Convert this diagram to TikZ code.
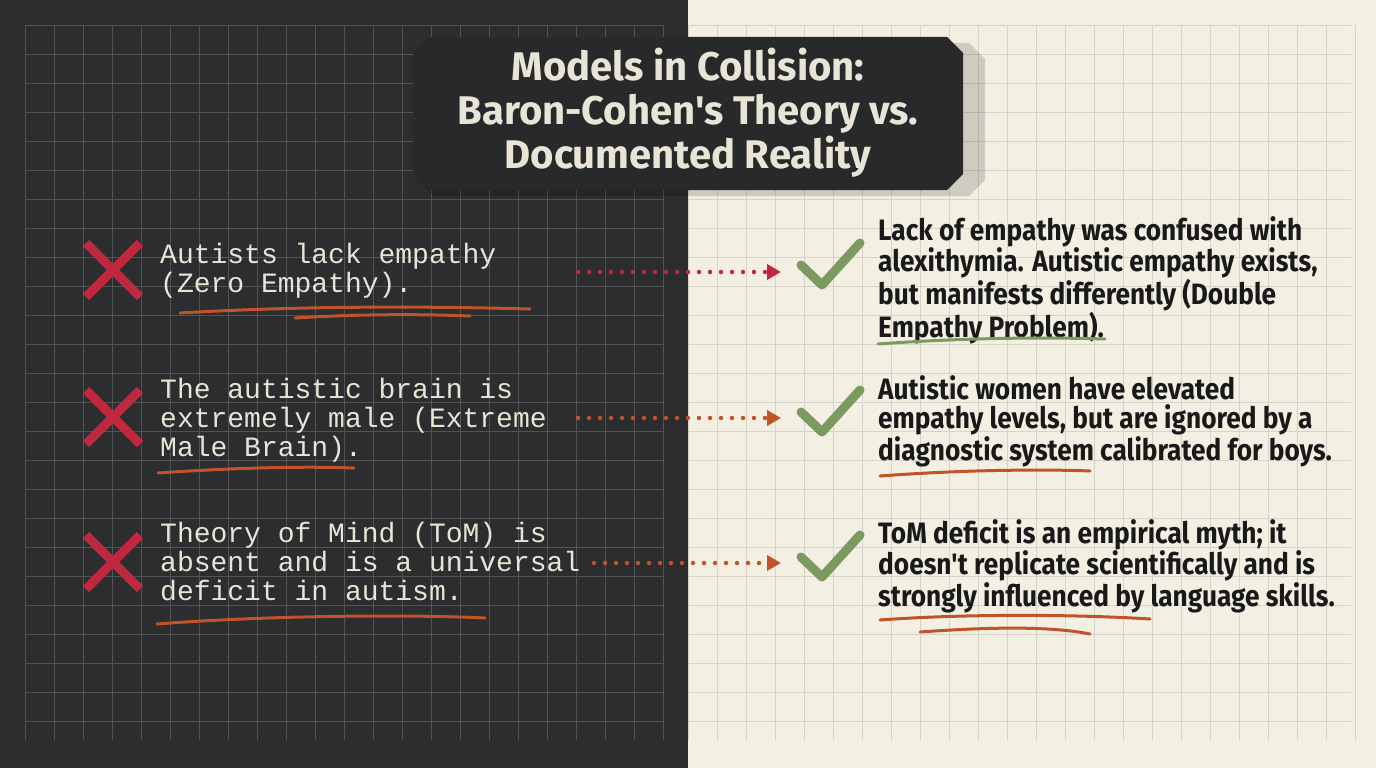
\documentclass[tikz,border=0pt]{standalone}
\usepackage{fontspec}
\usetikzlibrary{arrows.meta}
\newfontfamily\monof{Liberation Mono}
\newfontfamily\condf[FakeStretch=0.89]{Fira Sans Bold}
\newfontfamily\titlef{Fira Sans Bold}
\definecolor{dark}{HTML}{2B2D2F}
\definecolor{cream}{HTML}{F3F0E3}
\definecolor{xred}{HTML}{C0283F}
\definecolor{orng}{HTML}{C0532A}
\definecolor{grn}{HTML}{7A9A5F}
\definecolor{txt}{HTML}{E8E4D6}
\tikzset{
 lefttxt/.style={anchor=north west,align=left,text=txt,font=\monof\fontsize{28}{29}\selectfont,inner sep=0},
 righttxt/.style={anchor=north west,align=left,text=black!90,font=\condf\fontsize{29.5}{29.5}\selectfont,inner sep=0},
 xmark/.style={xred,line width=9pt},
 chk/.style={grn,line width=9pt,line cap=round,line join=round},
 dotarr/.style={line width=4.5pt,dash pattern=on 0pt off 11pt,line cap=round,-{Triangle[length=14pt,width=15pt,line cap=butt]}},
 uline/.style={line width=3pt,line cap=round}
}
\begin{document}
\begin{tikzpicture}[x=1pt,y=-1pt]
\fill[dark] (0,0) rectangle (688,768);
\fill[cream] (688,0) rectangle (1376,768);
\foreach \i in {0,...,22} \draw[white!18!dark,line width=0.8pt] (25+29*\i,25)--(25+29*\i,740);
\foreach \j in {0,...,24} \draw[white!18!dark,line width=0.8pt] (25,25+29*\j)--(663,25+29*\j);
\foreach \i in {0,...,23} \draw[black!12!cream,line width=0.8pt] (688+29*\i,25)--(688+29*\i,740);
\foreach \j in {0,...,24} \draw[black!12!cream,line width=0.8pt] (688,25+29*\j)--(1351,25+29*\j);
% title
\fill[black,opacity=0.15] (433,43)--(969,43)--(985,59)--(985,180)--(969,196)--(433,196)--(417,180)--(417,59)--cycle;
\fill[dark!90!black] (429,37)--(947,37)--(963,53)--(963,174)--(947,190)--(429,190)--(413,174)--(413,53)--cycle;
\node[text=txt,font=\titlef\fontsize{40}{44}\selectfont,align=center] (title) at (688,113) {Models in Collision:\\Baron-Cohen's Theory vs.\\Documented Reality};
% left texts
\node[lefttxt] (l1) at (160,243) {Autists lack empathy\\(Zero Empathy).};
\node[lefttxt] (l2) at (160,378) {The autistic brain is\\extremely male (Extreme\\Male Brain).};
\node[lefttxt] (l3) at (160,522) {Theory of Mind (ToM) is\\absent and is a universal\\deficit in autism.};
% right texts
\node[righttxt] (r1) at (878,216) {Lack of empathy was confused with\\alexithymia. Autistic empathy exists,\\but manifests differently (Double\\Empathy Problem).};
\node[righttxt] (r2) at (878,375) {Autistic women have elevated\\empathy levels, but are ignored by a\\diagnostic system calibrated for boys.};
\node[righttxt] (r3) at (878,519) {ToM deficit is an empirical myth; it\\doesn't replicate scientifically and is\\strongly influenced by language skills.};
% X marks
\foreach \y in {270,417,562}{
 \draw[xmark] (86,\y-27)--(140,\y+27);
 \draw[xmark] (140,\y-27)--(86,\y+27);}
% checks
\foreach \n/\y in {c1/268,c2/415,c3/560}{
 \coordinate (\n) at (795,\y);
 \draw[chk] (801,\y-3)--(822,\y+17)--(860,\y-25);}
% arrows
\coordinate (s1) at (578,272); \coordinate (s2) at (578,418); \coordinate (s3) at (594,563);
\draw[dotarr,xred] (s1) -- ([xshift=-14pt]c1|-s1);
\draw[dotarr,orng] (s2) -- ([xshift=-14pt]c2|-s2);
\draw[dotarr,orng] (s3) -- ([xshift=-14pt]c3|-s3);
% underlines left
\draw[uline,orng] (180,313) .. controls (300,306) and (420,306) .. (530,309);
\draw[uline,orng] (295,318) .. controls (360,314) and (420,314) .. (470,316);
\draw[uline,orng] (158,473) .. controls (230,468) and (300,466) .. (354,468);
\draw[uline,orng] (157,624) .. controls (260,616) and (400,614) .. (485,618);
% underlines right
\draw[uline,grn] (878,344) .. controls (960,338) and (1040,337) .. (1105,339);
\draw[uline,orng] (880,476) .. controls (960,470) and (1040,469) .. (1090,471);
\draw[uline,orng] (880,620) .. controls (960,614) and (1070,614) .. (1150,619);
\draw[uline,orng] (920,632) .. controls (990,627) and (1050,626) .. (1090,634);
\end{tikzpicture}
\end{document}
